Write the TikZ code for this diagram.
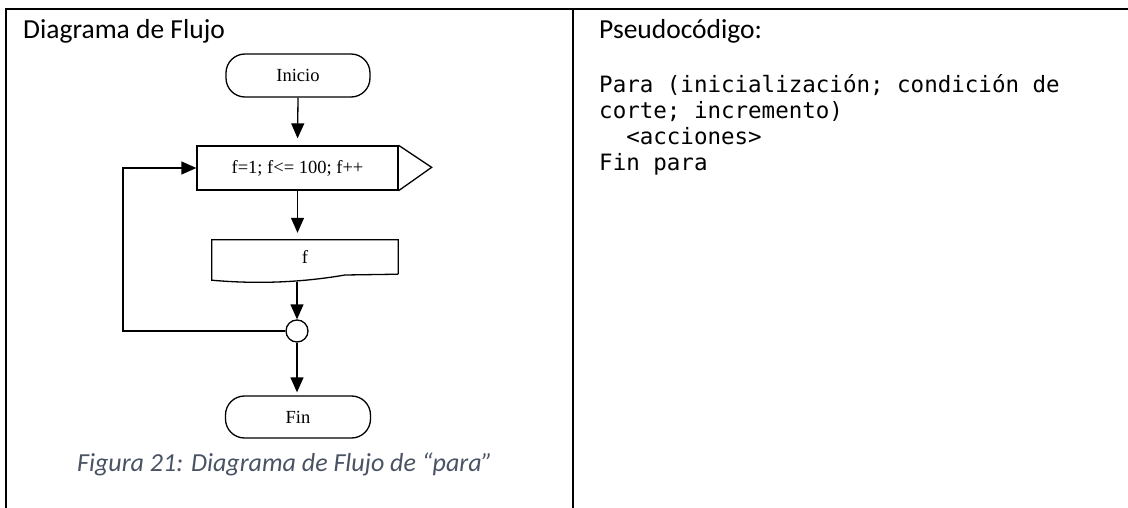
\documentclass[tikz,border=0pt]{standalone}
\usepackage{fontspec}
\setmainfont{Carlito}
\newfontfamily\codefont{DejaVu Sans Mono}
\newfontfamily\timesfont{Liberation Serif}
\usetikzlibrary{arrows.meta,calc}
\definecolor{captioncol}{HTML}{4A5363}
\begin{document}
\begin{tikzpicture}[x=1pt,y=-1pt,
  tableline/.style={line width=2pt},
  fline/.style={line width=1.3pt},
  arr/.style={fline,-{Triangle[length=15pt,width=13pt]}},
  term/.style={draw,fline,rounded corners=19pt,minimum width=144pt,minimum height=43pt,inner sep=0pt,font=\timesfont\fontsize{18.5}{21}\selectfont},
  procbox/.style={draw,fline,minimum width=201pt,minimum height=44pt,inner sep=0pt,font=\timesfont\fontsize{18.5}{21}\selectfont},
  docbox/.style={minimum width=186pt,minimum height=34pt,inner sep=0pt,font=\timesfont\fontsize{18.5}{21}\selectfont},
  conn/.style={draw,fline,circle,minimum size=22pt,inner sep=0pt},
  bodytext/.style={anchor=base west,inner sep=0pt,font=\fontsize{27.5}{33}\selectfont},
  codetext/.style={anchor=base west,inner sep=0pt,font=\codefont\fontsize{22.5}{26}\selectfont},
  captext/.style={anchor=base west,inner sep=0pt,text=captioncol,font=\itshape\fontsize{26}{31}\selectfont}
]
\useasboundingbox (0,0) rectangle (1128,508);
\fill[white] (0,0) rectangle (1128,508);
% table
\draw[tableline] (6,508) -- (6,9) -- (1128,9);
\draw[tableline] (573,9) -- (573,508);
% left column
\node[bodytext] (title) at (23,39) {Diagrama de Flujo};
\node[term] (ini) at (298,75.5) {Inicio};
\node[procbox] (loop) at (297.5,168) {f=1; f<= 100; f++};
\draw[fline] (loop.north east) -- ++(33,22) -- (loop.south east);
\node[docbox] (out) at (305,257) {f};
\draw[fline] (out.south east) -- (out.north east) -- (out.north west) -- ($(out.south west)+(0,6)$)
  .. controls (265,285) and (310,281) .. (345,275) -- (out.south east);
\coordinate (outb) at (297,282);
\node[conn] (c) at (297,331) {};
\node[term,minimum width=145pt,minimum height=42pt] (fin) at (298,417) {Fin};
\coordinate (lp) at (123,331);
\draw[arr,shorten >=7pt] (ini.south) -- (loop.north);
\draw[arr,shorten >=7pt] (loop.south) -- (loop.south |- out.north);
\draw[arr] (outb) -- (c.north);
\draw[arr,shorten >=3pt] (c.south) -- (c.south |- fin.north);
\draw[arr] (c.west) -- (lp) |- (loop.west);
\node[captext] (cap) at (77,471) {Figura 21: Diagrama de Flujo de “para”};
% right column
\node[bodytext] (pseudo) at (599,39) {Pseudocódigo:};
\node[codetext] (l1) at (599,93) {Para (inicialización; condición de};
\node[codetext] (l2) at (599,119) {corte; incremento)};
\node[codetext] (l3) at (599,145) {\ \ <acciones>};
\node[codetext] (l4) at (599,171) {Fin para};
\end{tikzpicture}
\end{document}
